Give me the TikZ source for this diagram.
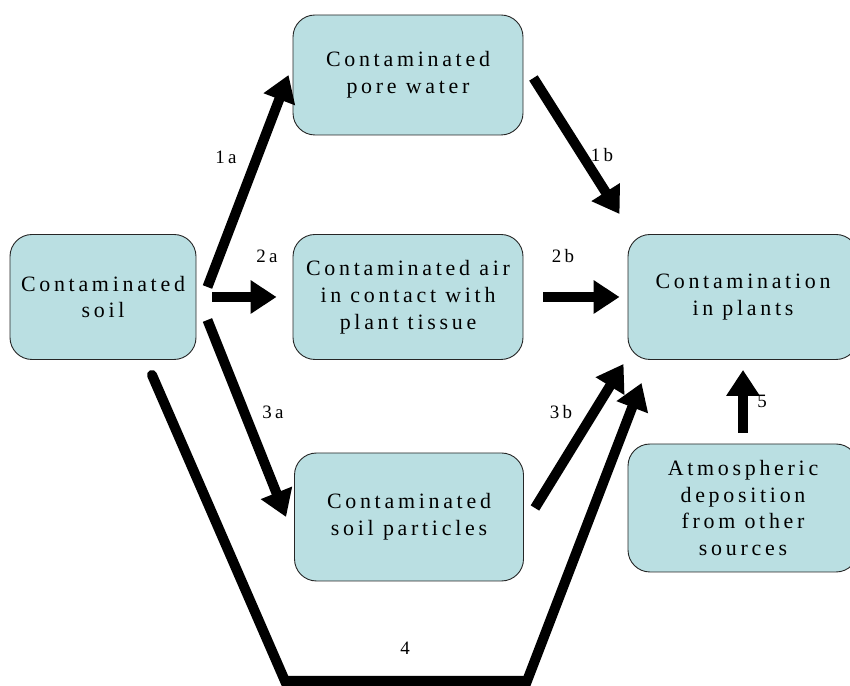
\documentclass[tikz,border=0pt]{standalone}
\usepackage{fontspec}
\setmainfont{Liberation Serif}
\newfontfamily\boxfont{Liberation Serif}[LetterSpace=17]
\usepackage{tikz}
\usetikzlibrary{arrows.meta,positioning,calc}
\definecolor{boxfill}{RGB}{186,223,226}

\begin{document}
\begin{tikzpicture}[>={Triangle[length=26bp,width=32bp]},line join=miter,
  box/.style={draw=black!85,line width=0.9bp,fill=boxfill,rounded corners=22bp,
    align=center,inner sep=0pt,font=\boxfont\fontsize{22}{27}\selectfont},
  flow/.style={line width=10bp},
  lab/.style={inner sep=0pt,font=\boxfont\fontsize{19}{20}\selectfont}]
%%
\useasboundingbox (0bp,0bp) rectangle (850bp,686bp);
\node (soil) at (103bp,389bp) [box,minimum width=186bp,minimum height=125bp] {Contaminated\\soil};
  \node (pore) at (408bp,611bp) [box,minimum width=230bp,minimum height=120bp] {Contaminated\\pore water};
  \node (air) at (408bp,389bp) [box,minimum width=230bp,minimum height=125bp] {Contaminated air\\in contact with\\plant tissue};
  \node (part) at (409bp,169bp) [box,minimum width=229bp,minimum height=128bp] {Contaminated\\soil particles};
  \node (plants) at (743bp,389bp) [box,minimum width=230bp,minimum height=125bp] {Contamination\\in plants};
  \node (atmo) at (743bp,178bp) [box,minimum width=230bp,minimum height=128bp] {Atmospheric\\deposition\\from other\\sources};
  \coordinate (c4l) at (285bp,5bp);
  \coordinate (c4r) at (527bp,5bp);
%%
  \draw [flow,->] ([shift={(11bp,10bp)}]soil.east) -- ([xshift=-4bp]pore.west);
  \draw (226bp,529bp) node [lab] (l1a) {1a};
  \draw [flow,->] ([xshift=16bp]soil.east) -- ([xshift=-16bp]air.west);
  \draw (267bp,430bp) node [lab] (l2a) {2a};
  \draw [flow,->] ([shift={(11bp,-23bp)}]soil.east) -- ([xshift=-8bp]part.west);
  \draw (273bp,274bp) node [lab] (l3a) {3a};
  \draw [flow,->] ([shift={(10bp,-3bp)}]pore.east) -- ([shift={(-8bp,20bp)}]plants.north west);
  \draw (602bp,531bp) node [lab] (l1b) {1b};
  \draw [flow,->] ([xshift=20bp]air.east) -- ([xshift=-8bp]plants.west);
  \draw (563bp,430bp) node [lab] (l2b) {2b};
  \draw [flow,->] ([shift={(11bp,9bp)}]part.east) -- ([shift={(-4bp,-4bp)}]plants.south west);
  \draw (561bp,274bp) node [lab] (l3b) {3b};
  \draw [flow,->,line cap=round] ([shift={(49bp,-15bp)}]soil.south) -- (c4l) -- (c4r) -- ([shift={(14bp,-23bp)}]plants.south west);
  \draw (405bp,38bp) node [lab] (l4) {4};
  \draw [flow,->] ([yshift=11bp]atmo.north) -- ([yshift=-10bp]plants.south);
  \draw (762bp,285bp) node [lab] (l5) {5};
%
\end{tikzpicture}
\end{document}
